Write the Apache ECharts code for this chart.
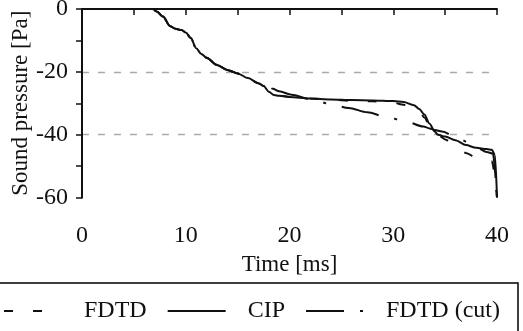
<!DOCTYPE html>
<html>
<head>
<meta charset="utf-8">
<script src="https://cdn.jsdelivr.net/npm/echarts@6/dist/echarts.min.js"></script>
<style>
html, body { margin: 0; padding: 0; background: #fff; }
#main { width: 523px; height: 331px; }
</style>
</head>
<body>
<div id="main"></div>
<script>
var xTicks = [0, 10, 20, 30, 40];
var yTicks = [0, -20, -40, -60];

var cipT = [0, 6.8, 7.2, 7.8, 8.5, 9.0, 9.6, 10.0, 10.5, 11.0, 11.5, 12.0, 13.0, 14.0, 15.0, 16.0, 17.0, 17.5, 18.0, 18.5, 19, 20, 22, 24, 26, 28, 30, 31, 32, 32.5, 33, 33.5, 34, 34.3, 35, 36, 37, 38, 39, 39.5, 39.8, 40];
var cipP = [0, 0, -0.8, -2.4, -5.5, -6.3, -6.7, -7.5, -9.3, -12.5, -14.3, -15.5, -17.8, -19.4, -20.5, -22.0, -23.6, -24.5, -26.3, -27.4, -27.6, -28.0, -28.5, -28.8, -29.0, -29.1, -29.3, -29.6, -30.6, -31.8, -33.6, -36.5, -39.0, -40.0, -40.6, -41.8, -43.3, -44.2, -44.6, -44.8, -46.5, -60];

var fdtdT = [0, 6.8, 7.2, 7.8, 8.5, 9.0, 9.6, 10.0, 10.5, 11.0, 11.5, 12.0, 13.0, 14.0, 15.0, 16.0, 17.0, 17.5, 18.0, 18.5, 19, 20, 22, 24, 26, 28, 30, 31, 32, 32.5, 33, 33.5, 34, 34.5, 35, 35.8, 36.5, 37, 38, 39, 39.5, 40];
var fdtdP = [0, 0, -0.8, -2.4, -5.5, -6.3, -6.7, -7.5, -9.3, -12.5, -14.3, -15.5, -17.8, -19.4, -20.5, -22.0, -23.6, -24.5, -26.3, -27.4, -27.6, -28.0, -28.5, -28.9, -29.2, -29.4, -29.8, -30.5, -31.8, -32.5, -34.5, -37.0, -39.5, -40.5, -41.5, -43.2, -45.0, -45.8, -47.3, -48.2, -48.5, -60];

var cutT = [0, 6.8, 7.2, 7.8, 8.5, 9.0, 9.6, 10.0, 10.5, 11.0, 11.5, 12.0, 13.0, 14.0, 15.0, 16.0, 17.0, 17.5, 18.0, 18.4, 19, 20.2, 22, 23.9, 25.7, 27.5, 29.3, 31.2, 32.9, 33.5, 34, 34.7, 36.4, 38.1, 39, 39.6, 40];
var cutP = [0, 0, -0.8, -2.4, -5.5, -6.3, -6.7, -7.5, -9.3, -12.5, -14.3, -15.5, -17.8, -19.4, -20.5, -22.0, -23.6, -24.3, -24.8, -25.4, -26.2, -27.3, -28.7, -30.2, -31.5, -32.9, -34.3, -35.8, -37.4, -38.0, -38.5, -39.0, -41.5, -44.2, -45.5, -46.0, -60];

function pairs(t, p) {
    return t.map(function (v, i) { return [v, p[i]]; });
}

var font = 'Liberation Serif';
var ink = '#111';
var chart = echarts.init(document.getElementById('main'));

chart.setOption({
    animation: false,
    grid: { left: 82, right: 26, top: 9, bottom: 133.5, outerBoundsMode: 'none', containLabel: false },
    legend: {
        left: -10,
        top: 283,
        width: 497,
        orient: 'horizontal',
        padding: [16, 18, 40, 13],
        itemWidth: 58,
        itemHeight: 14,
        itemGap: 20,
        borderColor: '#000',
        borderWidth: 1.5,
        itemStyle: { color: 'transparent', borderWidth: 0, opacity: 0 },
        textStyle: { fontFamily: font, fontSize: 24, color: ink, padding: [0, 0, 0, 17] },
        data: ['FDTD', 'CIP', 'FDTD (cut)']
    },
    xAxis: [{
        type: 'value',
        min: 0, max: 40, interval: 5,
        name: 'Time [ms]',
        nameLocation: 'middle',
        nameGap: 56,
        nameMoveOverlap: false,
        nameTextStyle: { fontFamily: font, fontSize: 23, color: ink },
        axisLine: { lineStyle: { color: ink, width: 2 } },
        axisTick: { length: 6, lineStyle: { color: ink, width: 1.5 } },
        axisLabel: {
            margin: 26,
            fontFamily: font, fontSize: 24, color: ink,
            formatter: function (v) { return xTicks.indexOf(v) >= 0 ? String(v) : ''; }
        },
        splitLine: { show: false }
    }, {
        type: 'value',
        position: 'top',
        min: 0, max: 40,
        axisLine: { show: true, lineStyle: { color: ink, width: 2, type: [11, 5] } },
        axisTick: { show: false },
        axisLabel: { show: false },
        splitLine: { show: false }
    }],
    yAxis: [{
        type: 'value',
        min: -60, max: 0, interval: 10,
        name: 'Sound pressure [Pa]',
        nameLocation: 'middle',
        nameGap: 50,
        nameMoveOverlap: false,
        nameTextStyle: { fontFamily: font, fontSize: 23, color: ink },
        axisLine: { show: true, lineStyle: { color: ink, width: 2 } },
        axisTick: { show: true, length: 6, lineStyle: { color: ink, width: 1.5 } },
        axisLabel: {
            margin: 14,
            fontFamily: font, fontSize: 24, color: ink,
            formatter: function (v) { return yTicks.indexOf(v) >= 0 ? String(v) : ''; }
        },
        splitLine: {
            show: true,
            lineStyle: {
                color: ['transparent', 'transparent', '#aaa', 'transparent', '#aaa', 'transparent', 'transparent'],
                width: 1.3,
                type: [7, 9]
            }
        }
    }, {
        type: 'value',
        position: 'right',
        min: -60, max: 0, interval: 10,
        axisLine: { show: true, lineStyle: { color: ink, width: 2 } },
        axisTick: { show: false },
        axisLabel: { show: false },
        splitLine: {
            show: true,
            lineStyle: {
                color: ['transparent', 'transparent', 'transparent', 'transparent', 'transparent', 'transparent', '#888'],
                width: 2,
                type: 'solid'
            }
        }
    }],
    series: [{
        name: 'FDTD',
        type: 'line',
        data: pairs(fdtdT, fdtdP),
        symbol: 'none',
        smooth: 0.3,
        smoothMonotone: 'x',
        itemStyle: { color: ink },
        lineStyle: { color: ink, width: 2, type: [9, 20] },
        z: 3
    }, {
        name: 'CIP',
        type: 'line',
        data: pairs(cipT, cipP),
        symbol: 'none',
        smooth: 0.3,
        smoothMonotone: 'x',
        itemStyle: { color: ink },
        lineStyle: { color: ink, width: 2, type: 'solid' },
        z: 4
    }, {
        name: 'FDTD (cut)',
        type: 'line',
        data: pairs(cutT, cutP),
        symbol: 'none',
        smooth: 0.3,
        smoothMonotone: 'x',
        itemStyle: { color: ink },
        lineStyle: { color: ink, width: 2, type: [38, 16, 3, 16] },
        z: 5
    }]
});
</script>
</body>
</html>
